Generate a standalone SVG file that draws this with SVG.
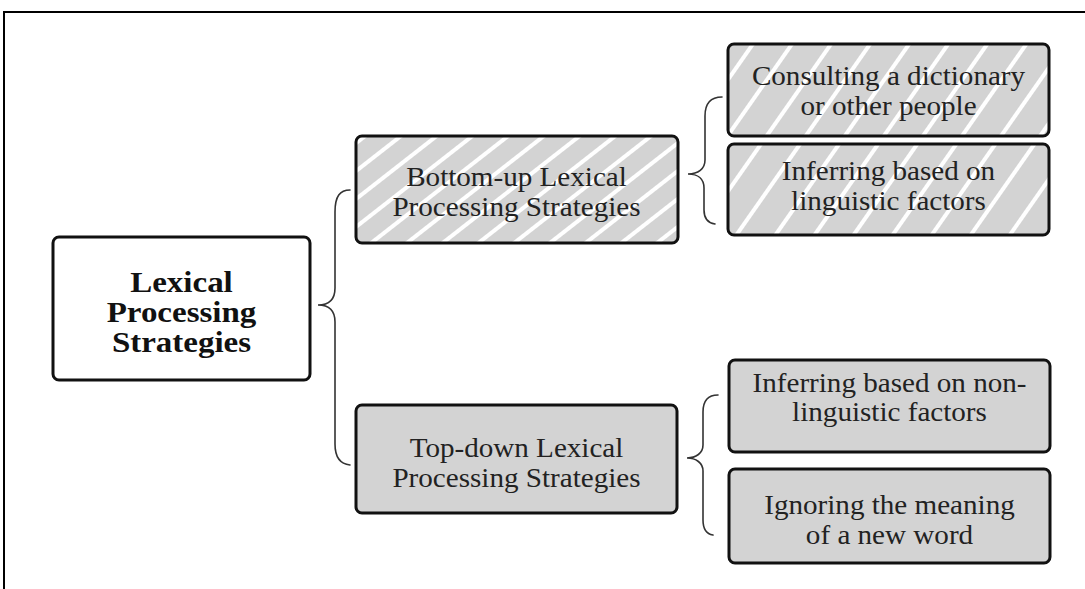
<svg xmlns="http://www.w3.org/2000/svg" width="1085" height="589" viewBox="0 0 1085 589">
<defs>
<pattern id="hatchA" patternUnits="userSpaceOnUse" width="22" height="40" patternTransform="rotate(52)">
<rect width="22" height="40" fill="#d3d3d3"/>
<rect x="0" width="4" height="40" fill="#ffffff"/>
</pattern>
<pattern id="hatchB" patternUnits="userSpaceOnUse" width="32" height="40" patternTransform="rotate(35)">
<rect width="32" height="40" fill="#d3d3d3"/>
<rect x="0" width="4" height="40" fill="#ffffff"/>
</pattern>
<style>
.box{stroke:#111;stroke-width:3;}
.plain{fill:#ffffff;}
.gray{fill:#d3d3d3;}
.t{font-family:"Liberation Serif","Times New Roman",serif;font-size:28px;fill:#222;text-anchor:middle;}
.b{font-family:"Liberation Serif","Times New Roman",serif;font-size:30px;font-weight:bold;fill:#111;text-anchor:middle;}
.brace{fill:none;stroke:#333;stroke-width:1.6;stroke-linecap:round;}
.frame{fill:none;stroke:#000;stroke-width:2;}
</style>
</defs>
<rect width="1085" height="589" fill="#ffffff"/>
<path class="frame" d="M4,589 L4,12 L1085,12"/>

<g id="connectors">
<path class="brace" d="M350,190 C340,190 335,196 335,212 L335,288 C335,299 329,305 318,305 C329,305 335,311 335,322 L335,444 C335,457 340,464 350,465"/>
<path class="brace" d="M722,97 C710,97 705,104 705,116 L705,160 C705,169 698,174 688,174 C698,174 704,179 704,188 L704,210 C704,219 708,223 715,224"/>
<path class="brace" d="M718,395 C708,395 703,401 703,412 L703,445 C703,453 696,458 687,458 C696,458 703,463 703,471 L703,520 C703,529 707,534 713,535"/>
</g>

<g id="root">
<rect class="box plain" x="53" y="237" width="257" height="143" rx="6"/>
<g transform="translate(181.5 0) scale(1.1 1)">
<text class="b" x="0" y="292">Lexical</text>
<text class="b" x="0" y="322">Processing</text>
<text class="b" x="0" y="352">Strategies</text>
</g>
</g>

<g id="bottomup">
<rect class="box" fill="url(#hatchA)" x="356" y="136" width="322" height="107" rx="6"/>
<g transform="translate(516.5 0) scale(1.04 1)">
<text class="t" x="0" y="186">Bottom-up Lexical</text>
<text class="t" x="0" y="216">Processing Strategies</text>
</g>
</g>

<g id="topdown">
<rect class="box gray" x="356" y="405" width="321" height="108" rx="6"/>
<g transform="translate(516.5 0) scale(1.04 1)">
<text class="t" x="0" y="457">Top-down Lexical</text>
<text class="t" x="0" y="487">Processing Strategies</text>
</g>
</g>

<g id="consulting">
<rect class="box" fill="url(#hatchB)" x="728" y="44" width="321" height="92" rx="6"/>
<g transform="translate(888.5 0) scale(1.04 1)">
<text class="t" x="0" y="85">Consulting a dictionary</text>
<text class="t" x="0" y="115">or other people</text>
</g>
</g>

<g id="linguistic">
<rect class="box" fill="url(#hatchB)" x="728" y="144" width="321" height="91" rx="6"/>
<g transform="translate(888.5 0) scale(1.04 1)">
<text class="t" x="0" y="180">Inferring based on</text>
<text class="t" x="0" y="210">linguistic factors</text>
</g>
</g>

<g id="nonlinguistic">
<rect class="box gray" x="729" y="360" width="321" height="92" rx="6"/>
<g transform="translate(889.5 0) scale(1.04 1)">
<text class="t" x="0" y="392">Inferring based on non-</text>
<text class="t" x="0" y="421">linguistic factors</text>
</g>
</g>

<g id="ignoring">
<rect class="box gray" x="729" y="469" width="321" height="94" rx="6"/>
<g transform="translate(889.5 0) scale(1.04 1)">
<text class="t" x="0" y="514">Ignoring the meaning</text>
<text class="t" x="0" y="544">of a new word</text>
</g>
</g>
</svg>
